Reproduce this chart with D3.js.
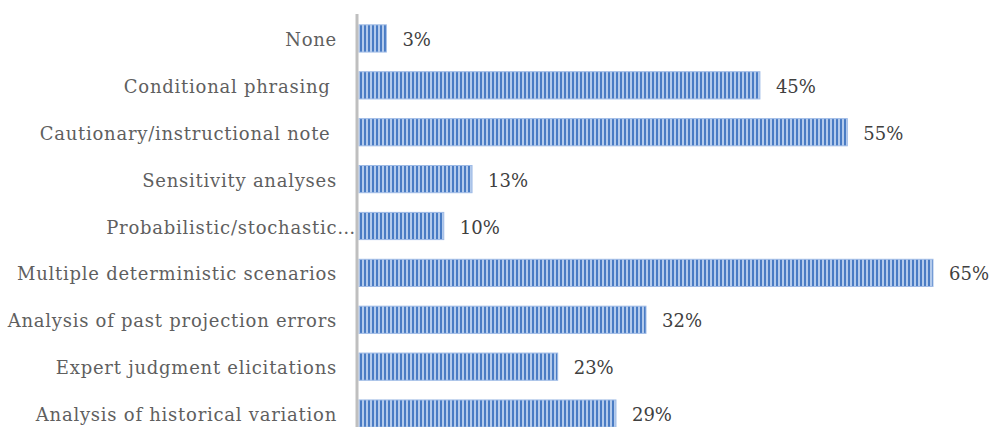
<!DOCTYPE html>
<html>
<head>
<meta charset="utf-8">
<script src="https://cdn.jsdelivr.net/npm/d3@7"></script>
<style>
  body { margin: 0; background: #fff; }
  .cat-label { font-family: 'DejaVu Serif', serif; font-size: 18px; letter-spacing: 0.75px; fill: #5f5f5f; }
  .val-label { font-family: 'DejaVu Serif', serif; font-size: 18px; fill: #404040; }
</style>
</head>
<body>
<div id="chart"></div>
<script>
const categories = [
  'None',
  'Conditional phrasing ',
  'Cautionary/instructional note ',
  'Sensitivity analyses',
  'Probabilistic/stochastic…',
  'Multiple deterministic scenarios',
  'Analysis of past projection errors',
  'Expert judgment elicitations',
  'Analysis of historical variation'
];
const values = [3.1, 45.4, 55.3, 12.8, 9.6, 65, 32.5, 22.5, 29.1];
const valueLabels = ['3%', '45%', '55%', '13%', '10%', '65%', '32%', '23%', '29%'];

const width = 993, height = 427;
const margin = { top: 15, right: 60, bottom: -10, left: 359 };

const svg = d3.select('#chart').append('svg')
  .attr('width', width)
  .attr('height', height);

// striped fill like the original office chart
const defs = svg.append('defs');
const pat = defs.append('pattern')
  .attr('id', 'stripes')
  .attr('patternUnits', 'userSpaceOnUse')
  .attr('width', 4)
  .attr('height', 4);
pat.append('rect').attr('width', 4).attr('height', 4).attr('fill', '#b4cbec');
pat.append('rect').attr('width', 2).attr('height', 4).attr('fill', '#4a7cc4');

const x = d3.scaleLinear()
  .domain([0, 65])
  .range([margin.left, 933]);

const y = d3.scaleBand()
  .domain(categories)
  .range([margin.top, height - margin.bottom])
  .paddingInner(0.42)
  .paddingOuter(0.21);

const data = categories.map((c, i) => ({ name: c, value: values[i], label: valueLabels[i] }));

svg.selectAll('.bar')
  .data(data)
  .enter().append('rect')
  .attr('class', 'bar')
  .attr('x', x(0))
  .attr('y', d => y(d.name))
  .attr('width', d => x(d.value) - x(0))
  .attr('height', y.bandwidth())
  .attr('fill', 'url(#stripes)')
  .attr('stroke', '#9fbbe6')
  .attr('stroke-width', 1);

// category axis: just the line, labels drawn separately
svg.append('g')
  .attr('transform', `translate(${x(0) - 2},0)`)
  .call(d3.axisLeft(y).tickSize(0).tickFormat(''))
  .call(g => g.select('.domain').attr('stroke', '#bfbfbf').attr('stroke-width', 3)
    .attr('d', `M0,${margin.top - 1}V${height}`));

svg.selectAll('.cat-label')
  .data(data)
  .enter().append('text')
  .attr('class', 'cat-label')
  .attr('x', d => d.name.endsWith('…') ? 356 : 337)
  .attr('y', d => y(d.name) + y.bandwidth() / 2)
  .attr('dy', '0.42em')
  .attr('text-anchor', 'end')
  .attr('xml:space', 'preserve')
  .style('white-space', 'pre')
  .text(d => d.name);

svg.selectAll('.val-label')
  .data(data)
  .enter().append('text')
  .attr('class', 'val-label')
  .attr('x', d => x(d.value) + 16)
  .attr('y', d => y(d.name) + y.bandwidth() / 2)
  .attr('dy', '0.42em')
  .text(d => d.label);
</script>
</body>
</html>
